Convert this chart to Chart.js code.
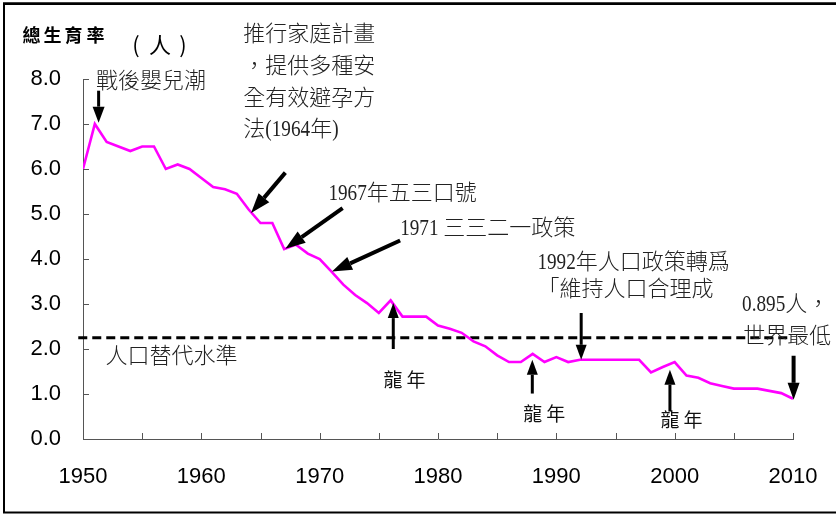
<!DOCTYPE html>
<html>
<head>
<meta charset="utf-8">
<script src="https://cdn.jsdelivr.net/npm/chart.js@4.4.1/dist/chart.umd.min.js"></script>
<style>
  html, body { margin: 0; padding: 0; background: #fff; }
  #tfr { display: block; }
</style>
</head>
<body>
<canvas id="tfr" width="836" height="514"></canvas>
<script>
// Total fertility rate (births per woman), 1950 - 2010
const years = [
  1950, 1951, 1952, 1953, 1954, 1955, 1956, 1957, 1958, 1959,
  1960, 1961, 1962, 1963, 1964, 1965, 1966, 1967, 1968, 1969,
  1970, 1971, 1972, 1973, 1974, 1975, 1976, 1977, 1978, 1979,
  1980, 1981, 1982, 1983, 1984, 1985, 1986, 1987, 1988, 1989,
  1990, 1991, 1992, 1993, 1994, 1995, 1996, 1997, 1998, 1999,
  2000, 2001, 2002, 2003, 2004, 2005, 2006, 2007, 2008, 2009,
  2010
];
const fertility = [
  6.0, 7.0, 6.6, 6.5, 6.4, 6.5, 6.5, 6.0, 6.1, 6.0,
  5.8, 5.6, 5.55, 5.45, 5.1, 4.8, 4.8, 4.22, 4.32, 4.12,
  4.0, 3.72, 3.43, 3.2, 3.02, 2.8, 3.08, 2.72, 2.72, 2.72,
  2.52, 2.45, 2.36, 2.17, 2.06, 1.86, 1.71, 1.71, 1.89, 1.71,
  1.82, 1.71, 1.76, 1.76, 1.76, 1.76, 1.76, 1.76, 1.48, 1.6,
  1.71, 1.41, 1.36, 1.24, 1.18, 1.12, 1.12, 1.12, 1.07, 1.02,
  0.895
];

// replacement level and the span of years it is drawn over
const replacementLevel = 2.25;
const replacementSpan = [1949.6, 2009.8];

const yTickLabels = ['0.0', '1.0', '2.0', '3.0', '4.0', '5.0', '6.0', '7.0', '8.0'];
const xTickLabels = ['1950', '1960', '1970', '1980', '1990', '2000', '2010'];

// notes and arrows, placed in (year, value) units
const notes = [
  { text: '戰後嬰兒潮', x: 1951.1, y: 7.98 },
  { text: '推行家庭計畫', x: 1963.55, y: 9.03 },
  { text: '，提供多種安', x: 1963.55, y: 8.32 },
  { text: '全有效避孕方', x: 1963.55, y: 7.6 },
  { text: '法(1964年)', x: 1963.55, y: 6.92 },
  { text: '1967年五三口號', x: 1970.74, y: 5.5 },
  { text: '1971 三三二一政策', x: 1976.8, y: 4.72 },
  { text: '1992年人口政策轉爲', x: 1988.4, y: 3.95 },
  { text: '「維持人口合理成', x: 1988.4, y: 3.36 },
  { text: '0.895人，', x: 2005.7, y: 3.03 },
  { text: '世界最低', x: 2005.8, y: 2.32 },
  { text: '人口替代水準', x: 1951.9, y: 1.87 }
];
const dragonNotes = [
  { x: 1976.2, y: 1.32 },
  { x: 1988.0, y: 0.56 },
  { x: 1999.6, y: 0.43 }
];
const arrows = [
  { from: [1951.32, 7.74], to: [1951.32, 7.03], w: 3, head: 16, headW: 12 },
  { from: [1967.1, 5.92], to: [1964.2, 5.02], w: 4, head: 20, headW: 14 },
  { from: [1971.94, 5.13], to: [1967.1, 4.23], w: 4, head: 20, headW: 14 },
  { from: [1976.8, 4.41], to: [1971.04, 3.72], w: 4, head: 20, headW: 14 },
  { from: [1976.22, 2.0], to: [1976.22, 3.02], w: 3, head: 15, headW: 11 },
  { from: [1987.97, 1.01], to: [1987.97, 1.76], w: 3, head: 15, headW: 11 },
  { from: [1992.1, 2.8], to: [1992.1, 1.76], w: 3, head: 15, headW: 11 },
  { from: [1999.6, 0.61], to: [1999.6, 1.54], w: 3, head: 15, headW: 11 },
  { from: [2010.05, 1.85], to: [2010.05, 0.87], w: 4, head: 17, headW: 12 }
];

const axisColor = '#555';

function drawArrow(ctx, x1, y1, x2, y2, w, headLen, headW) {
  const a = Math.atan2(y2 - y1, x2 - x1);
  const bx = x2 - headLen * Math.cos(a);
  const by = y2 - headLen * Math.sin(a);
  ctx.lineWidth = w;
  ctx.beginPath();
  ctx.moveTo(x1, y1);
  ctx.lineTo(bx, by);
  ctx.stroke();
  ctx.beginPath();
  ctx.moveTo(x2, y2);
  ctx.lineTo(bx + headW / 2 * Math.sin(a), by - headW / 2 * Math.cos(a));
  ctx.lineTo(bx - headW / 2 * Math.sin(a), by + headW / 2 * Math.cos(a));
  ctx.closePath();
  ctx.fill();
}

// latin runs in a narrowed serif face, ideographs in the CJK face
const latinSqueeze = 0.8;
function drawMixed(ctx, str, x, yMid) {
  const runs = str.match(/[\x00-\x7f]+|[^\x00-\x7f]+/g);
  const base = yMid + 8;
  for (const r of runs) {
    if (/[\x00-\x7f]/.test(r[0])) {
      ctx.font = '24px "Liberation Serif"';
      ctx.save();
      ctx.translate(x, base);
      ctx.scale(latinSqueeze, 1);
      ctx.fillText(r, 0, 0);
      ctx.restore();
      x += ctx.measureText(r).width * latinSqueeze;
    } else {
      ctx.font = '300 22px "Noto Sans CJK TC"';
      ctx.fillText(r, x, base);
      x += ctx.measureText(r).width;
    }
  }
}

function drawSpaced(ctx, chars, centers, yMid, font) {
  ctx.font = font;
  ctx.textAlign = 'center';
  chars.forEach((c, i) => ctx.fillText(c, centers[i], yMid));
  ctx.textAlign = 'left';
}

const decor = {
  id: 'decor',
  beforeDraw(chart) {
    const ctx = chart.ctx;
    ctx.save();
    ctx.fillStyle = '#fff';
    ctx.fillRect(0, 0, chart.width, chart.height);
    ctx.strokeStyle = '#000';
    ctx.lineWidth = 2;
    ctx.strokeRect(4, 3.5, chart.width + 10, 509);
    ctx.fillStyle = '#000';
    ctx.fillRect(3, 2.5, chart.width, 2.5);
    ctx.restore();
  },
  afterDraw(chart) {
    const ctx = chart.ctx;
    const xs = chart.scales.x, ys = chart.scales.y;
    const px = v => xs.getPixelForValue(v);
    const py = v => ys.getPixelForValue(v);
    const area = chart.chartArea;
    ctx.save();

    // inward tick marks
    ctx.strokeStyle = axisColor;
    ctx.lineWidth = 1;
    ctx.beginPath();
    for (let yr = 1955; yr <= 2010; yr += 5) {
      const x = Math.round(px(yr)) + 0.5;
      ctx.moveTo(x, area.bottom);
      ctx.lineTo(x, area.bottom - 6);
    }
    for (let v = 1; v <= 8; v++) {
      const y = Math.round(py(v)) + 0.5;
      ctx.moveTo(area.left, y);
      ctx.lineTo(area.left + 6, y);
    }
    ctx.stroke();

    // arrows
    ctx.strokeStyle = '#000';
    ctx.fillStyle = '#000';
    ctx.lineCap = 'butt';
    arrows.forEach(a => drawArrow(ctx, px(a.from[0]), py(a.from[1]), px(a.to[0]), py(a.to[1]), a.w, a.head, a.headW));

    // notes
    ctx.fillStyle = '#222';
    ctx.textAlign = 'left';
    ctx.textBaseline = 'alphabetic';
    notes.forEach(n => drawMixed(ctx, n.text, px(n.x), py(n.y)));

    ctx.textBaseline = 'middle';
    ctx.fillStyle = '#111';
    dragonNotes.forEach(d => {
      const x = px(d.x);
      drawSpaced(ctx, ['龍', '年'], [x, x + 23], py(d.y), '19px "Noto Sans CJK TC"');
    });

    // axis title
    ctx.fillStyle = '#000';
    drawSpaced(ctx, ['總', '生', '育', '率'], [31.5, 52.5, 73.5, 95.5], 35, 'bold 18px "Noto Sans CJK TC"');
    drawSpaced(ctx, ['(', '人', ')'], [136, 160, 183], 45, '22px "Noto Sans CJK TC"');
    ctx.restore();
  }
};

new Chart(document.getElementById('tfr'), {
  type: 'line',
  data: {
    datasets: [
      {
        data: years.map((yr, i) => ({ x: yr, y: fertility[i] })),
        borderColor: '#ff00ff',
        borderWidth: 2.6,
        pointRadius: 0,
        tension: 0,
        borderJoinStyle: 'miter'
      },
      {
        data: replacementSpan.map(yr => ({ x: yr, y: replacementLevel })),
        borderColor: '#000',
        borderWidth: 3,
        borderDash: [9, 5],
        pointRadius: 0,
        clip: false
      }
    ]
  },
  options: {
    responsive: false,
    animation: false,
    devicePixelRatio: 1,
    layout: { padding: { left: 0, top: 79, right: 43, bottom: 0 } },
    plugins: { legend: { display: false }, tooltip: { enabled: false } },
    scales: {
      x: {
        type: 'linear',
        min: 1950,
        max: 2010,
        afterFit: s => { s.height = 75; s.paddingLeft = 0; s.paddingRight = 0; },
        ticks: {
          stepSize: 10,
          padding: 25,
          color: '#000',
          font: { family: '"Liberation Sans"', size: 22 },
          callback: (v, i) => xTickLabels[i]
        },
        grid: { display: false, drawTicks: false },
        border: { display: true, color: axisColor, width: 1 }
      },
      y: {
        min: 0,
        max: 8,
        afterFit: s => { s.width = 83; s.paddingTop = 0; s.paddingBottom = 0; },
        ticks: {
          stepSize: 1,
          padding: 22,
          color: '#000',
          font: { family: '"Liberation Sans"', size: 22 },
          callback: (v, i) => yTickLabels[i]
        },
        grid: { display: false, drawTicks: false },
        border: { display: true, color: axisColor, width: 1 }
      }
    }
  },
  plugins: [decor]
});
</script>
</body>
</html>
